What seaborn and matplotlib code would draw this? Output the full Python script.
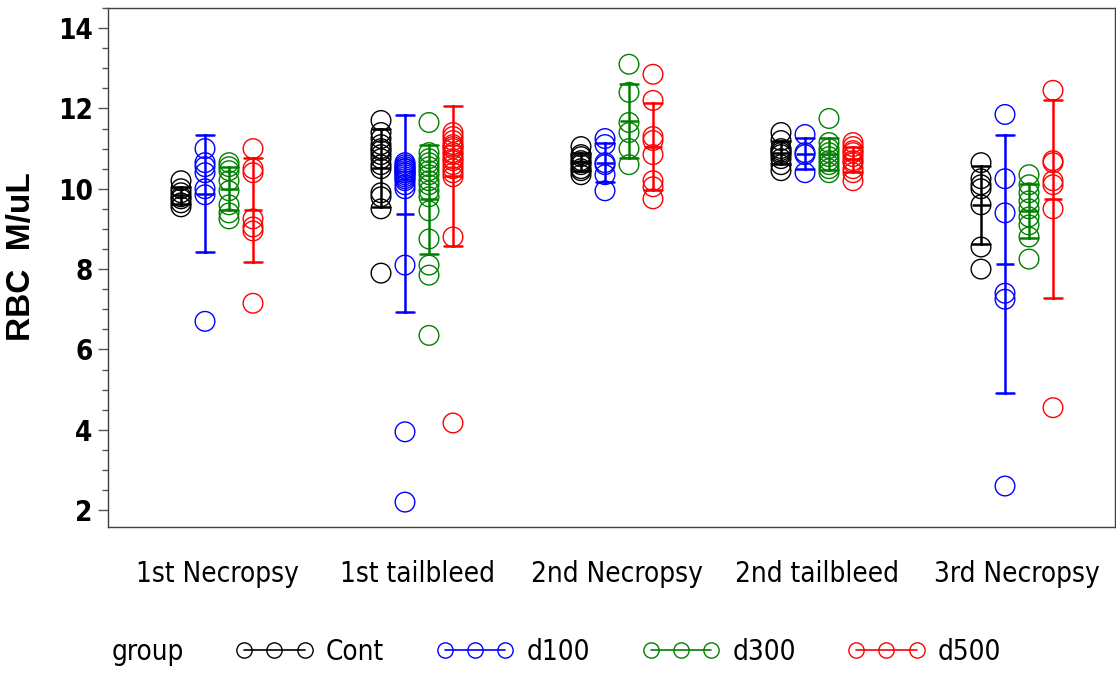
import numpy as np
import pandas as pd
import matplotlib
matplotlib.use("Agg")
import matplotlib.pyplot as plt
from matplotlib import font_manager
from matplotlib.font_manager import FontProperties
from matplotlib.lines import Line2D
from matplotlib.ticker import MultipleLocator
import seaborn as sns

# ---- data -----------------------------------------------------------------
times = ["1st Necropsy", "1st tailbleed", "2nd Necropsy", "2nd tailbleed", "3rd Necropsy"]
groups = ["Cont", "d100", "d300", "d500"]
colors = ["#000000", "#0000FF", "#008000", "#FF0000"]

# RBC (M/uL) per animal, one list per time point
cont = [
    [10.2, 10.0, 9.9, 9.8, 9.75, 9.65, 9.55],
    [11.7, 11.4, 11.25, 11.1, 11.0, 10.95, 10.85, 10.75, 10.6, 10.5, 9.9, 9.8, 9.5, 7.9],
    [11.05, 10.85, 10.8, 10.7, 10.65, 10.6, 10.5, 10.45, 10.35],
    [11.4, 11.2, 11.0, 10.95, 10.9, 10.85, 10.75, 10.6, 10.45],
    [10.65, 10.25, 10.1, 10.0, 9.6, 8.55, 8.0],
]
d100 = [
    [11.0, 10.65, 10.55, 10.4, 10.0, 9.85, 6.7],
    [10.65, 10.6, 10.55, 10.5, 10.5, 10.45, 10.4, 10.4, 10.35, 10.3, 10.25, 10.2,
     10.1, 10.0, 8.1, 3.95, 2.2],
    [11.25, 11.1, 10.65, 10.6, 10.35, 9.95],
    [11.35, 10.9, 10.85, 10.4],
    [11.85, 10.25, 9.4, 7.4, 7.25, 2.6],
]
d300 = [
    [10.65, 10.55, 10.45, 10.2, 9.95, 9.6, 9.4, 9.25],
    [11.65, 10.9, 10.75, 10.65, 10.55, 10.45, 10.35, 10.2, 10.1, 9.95, 9.8, 9.45,
     8.75, 8.1, 7.85, 6.35],
    [13.1, 12.4, 11.65, 11.4, 11.0, 10.6],
    [11.75, 11.15, 11.0, 10.9, 10.8, 10.7, 10.6, 10.5, 10.4],
    [10.35, 10.1, 9.9, 9.7, 9.5, 9.3, 9.1, 8.8, 8.25],
]
d500 = [
    [11.0, 10.5, 10.4, 9.25, 9.05, 8.95, 7.15],
    [11.4, 11.3, 11.2, 11.1, 11.05, 11.0, 10.9, 10.85, 10.75, 10.7, 10.6, 10.5,
     10.4, 10.3, 8.8, 4.17],
    [12.85, 12.2, 11.3, 11.2, 10.85, 10.2, 10.05, 9.75],
    [11.15, 11.05, 10.95, 10.9, 10.8, 10.7, 10.65, 10.5, 10.4, 10.2],
    [12.45, 10.7, 10.65, 10.2, 10.1, 9.5, 4.55],
]

# ---- long table -------------------------------------------------------------
dodge_width = 0.36
offsets = np.linspace(-dodge_width / 2, dodge_width / 2, len(groups))
rows = []
for g_idx, (g, series) in enumerate(zip(groups, [cont, d100, d300, d500])):
    for t_idx, vals in enumerate(series):
        for v in vals:
            rows.append({"t": t_idx, "pos": t_idx + offsets[g_idx], "group": g, "rbc": v})
df = pd.DataFrame(rows)

# ---- fonts ------------------------------------------------------------------
sns.set_theme(style="white")


def _is_bold(f):
    return f.weight in (600, 700, 800, "bold", "semibold", "demibold", "heavy")


def find_narrow_font(bold=False):
    """Path of a condensed sans face, if one is installed."""
    entries = font_manager.fontManager.ttflist
    prefs = [
        lambda f: f.name == "Liberation Sans Narrow",
        lambda f: f.name == "DejaVu Sans" and f.stretch == "condensed",
        lambda f: "Condensed" in f.name or "Narrow" in f.name,
        lambda f: f.stretch in ("condensed", "semi-condensed"),
    ]
    for rule in prefs:
        for f in entries:
            try:
                if rule(f) and f.style == "normal" and _is_bold(f) == bold:
                    return f.fname
            except Exception:
                pass
    return None


narrow_file = find_narrow_font(False)
narrow_bold_file = find_narrow_font(True) or narrow_file
if narrow_file:
    def nfont(size, bold=False):
        return FontProperties(fname=narrow_bold_file if bold else narrow_file, size=size)
    narrow_scale = 1.0
else:
    def nfont(size, bold=False):
        return FontProperties(family=["Roboto", "Liberation Sans", "DejaVu Sans"],
                              size=size * 0.86, weight="bold" if bold else "medium")
    narrow_scale = 0.86

plt.rcParams["font.family"] = ["Liberation Sans", "DejaVu Sans"]
plt.rcParams["text.color"] = "black"

fig = plt.figure(figsize=(11.16, 6.74), dpi=100)
ax = fig.add_axes([108 / 1116, 1 - 527 / 674, 1007 / 1116, 519 / 674])

# individual animals as open circles
sns.scatterplot(data=df, x="pos", y="rbc", hue="group", hue_order=groups,
                palette=colors, s=200, linewidth=1.0, legend=False, ax=ax, zorder=2)
for coll in ax.collections:
    fc = coll.get_facecolors()
    coll.set_edgecolors(fc)
    coll.set_facecolors("none")

# mean +/- SD bars
sns.pointplot(data=df, x="t", y="rbc", hue="group", hue_order=groups,
              palette=colors, native_scale=True, orient="x", dodge=dodge_width,
              errorbar="sd", capsize=0.09, markers="_", linestyles="none",
              markersize=13, markeredgewidth=1.8,
              err_kws={"linewidth": 1.8}, legend=False, ax=ax)

# ---- axes -------------------------------------------------------------------
ax.set_xlim(-0.545, 4.49)
ax.set_ylim(1.58, 14.5)
ax.set_xticks(range(len(times)))
ax.set_xticklabels(times)
for lab in ax.get_xticklabels():
    lab.set_fontproperties(nfont(20))
    lab.set_color("black")
ax.set_yticks(range(2, 15, 2))
ax.set_yticklabels([str(v) for v in range(2, 15, 2)])
for lab in ax.get_yticklabels():
    lab.set_fontproperties(nfont(20, bold=True))
    lab.set_color("black")
ax.yaxis.set_minor_locator(MultipleLocator(0.5))
ax.tick_params(axis="y", which="major", direction="out", length=7, width=1,
               color="#555555", pad=4, left=True)
ax.tick_params(axis="y", which="minor", direction="out", length=4, width=1,
               color="#555555", left=True)
ax.tick_params(axis="x", length=0, pad=24)
ax.set_xlabel("")
ax.set_ylabel("RBC  M/uL", fontsize=24, fontweight="bold", color="black",
              fontfamily=["Liberation Sans", "DejaVu Sans"])
ax.yaxis.set_label_coords(-0.0705, 0.52)
for sp in ax.spines.values():
    sp.set_visible(True)
    sp.set_color("#404040")
    sp.set_linewidth(1.0)

# ---- legend -----------------------------------------------------------------
handles = [Line2D([], [], color=c, marker="o", markerfacecolor="none",
                  markersize=11, markeredgewidth=1.0, linewidth=1.2) for c in colors]
leg = fig.legend(handles, groups, loc="center left",
                 bbox_to_anchor=(236 / 1116, 1 - 652 / 674),
                 ncol=4, frameon=False, numpoints=3, handlelength=2.77 / narrow_scale,
                 handletextpad=0.47 / narrow_scale, columnspacing=1.88 / narrow_scale,
                 borderpad=0, borderaxespad=0, prop=nfont(20))
for t in leg.get_texts():
    t.set_color("black")
fig.text(112 / 1116, 1 - 652 / 674, "group", ha="left", va="center",
         fontproperties=nfont(20), color="black")

fig.savefig("out.png", dpi=100)
